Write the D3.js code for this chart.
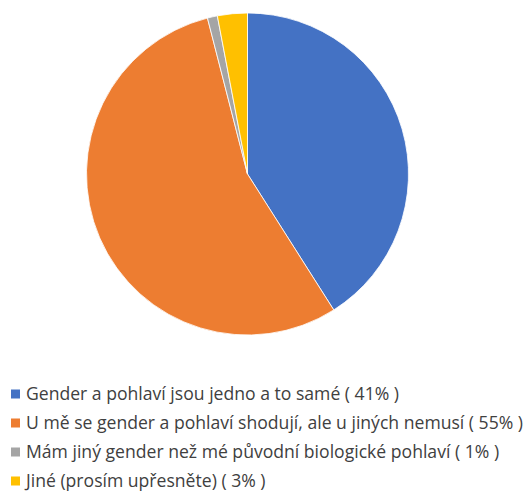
<!DOCTYPE html>
<html>
<head>
<meta charset="utf-8">
<script src="https://cdn.jsdelivr.net/npm/d3@7"></script>
<style>
  body { margin: 0; background: #fff; }
</style>
</head>
<body>
<script>
const labels = [
    'Gender a pohlaví jsou jedno a to samé',
    'U mě se gender a pohlaví shodují, ale u jiných nemusí',
    'Mám jiný gender než mé původní biologické pohlaví',
    'Jiné (prosím upřesněte)'
];
const values = [41, 55, 1, 3];
const colors = ['#4472c4', '#ed7d31', '#a5a5a5', '#ffc000'];

const width = 531;
const height = 492;
const cx = 247.5;
const cy = 174;
const radius = 161;

const data = labels.map((l, i) => ({ label: l, value: values[i], color: colors[i] }));

const svg = d3.select('body')
    .append('svg')
    .attr('width', width)
    .attr('height', height);

const pie = d3.pie()
    .sort(null)
    .value(d => d.value);

const arc = d3.arc()
    .innerRadius(0)
    .outerRadius(radius);

svg.append('g')
    .attr('transform', 'translate(' + cx + ',' + cy + ')')
    .selectAll('path')
    .data(pie(data))
    .enter()
    .append('path')
    .attr('d', arc)
    .attr('fill', d => d.data.color)
    .attr('stroke', '#fff')
    .attr('stroke-width', 0.8);

// legend
const legend = svg.append('g')
    .attr('transform', 'translate(11, 394)');

const rows = legend.selectAll('g')
    .data(data)
    .enter()
    .append('g')
    .attr('transform', (d, i) => 'translate(0,' + (i * 29) + ')');

rows.append('rect')
    .attr('x', 0)
    .attr('y', -4.5)
    .attr('width', 9)
    .attr('height', 9)
    .attr('fill', d => d.color);

rows.append('text')
    .attr('x', 15)
    .attr('y', 0)
    .attr('dy', '0.36em')
    .style('font-family', '"Open Sans", sans-serif')
    .style('font-size', '17.6px')
    .style('fill', '#404040')
    .text(d => d.label + ' ( ' + d.value + '% )');
</script>
</body>
</html>
